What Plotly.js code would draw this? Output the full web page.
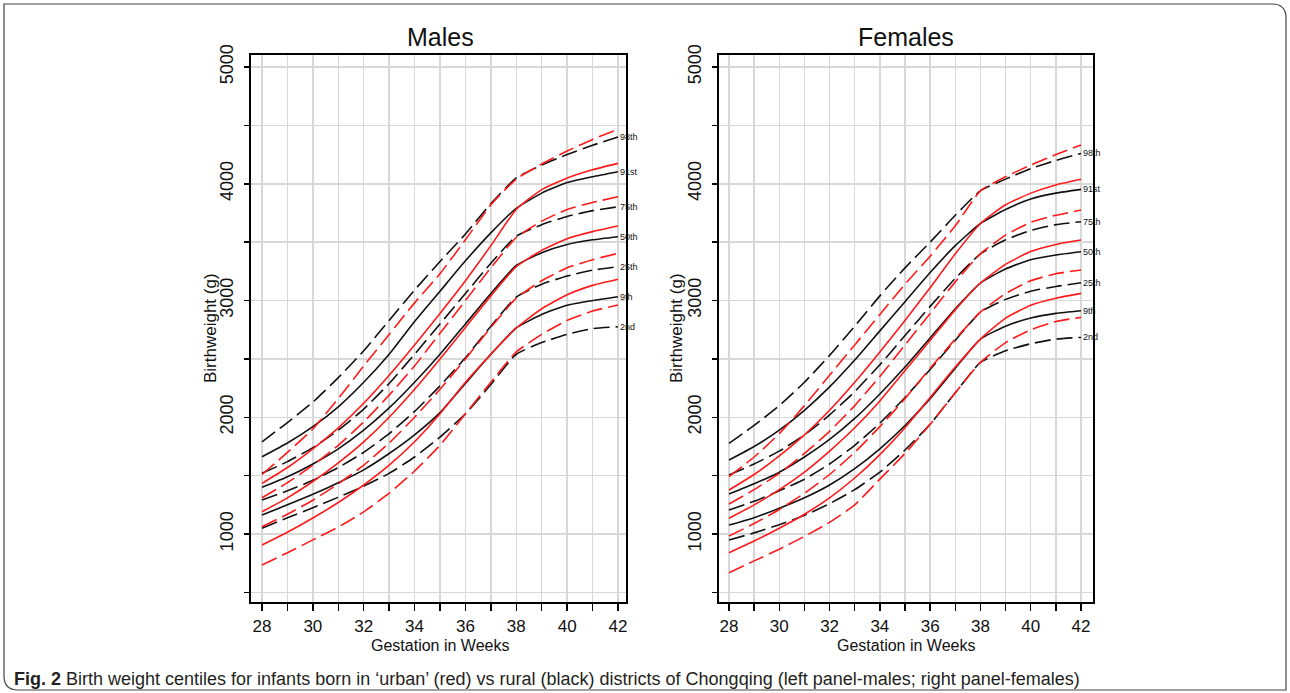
<!DOCTYPE html>
<html><head><meta charset="utf-8">
<script src="https://cdn.plot.ly/plotly-3.0.1.min.js"></script>
<style>html,body{margin:0;padding:0;background:#fff}#chart{width:1290px;height:693px}</style>
</head><body><div id="chart"></div><script>
const weeks=[28,29,30,31,32,33,34,35,36,37,38,39,40,41,42];
const xTickText=['28','','30','','32','','34','','36','','38','','40','','42'];
const yTickVals=[500,1000,1500,2000,2500,3000,3500,4000,4500,5000];
const yTickText=['','1000','','2000','','3000','','4000','','5000'];
const centiles=['98th','91st','75th','50th','25th','9th','2nd'];

// Males, rural (black)
const maleRural=[
 [1790,1955,2130,2340,2570,2830,3090,3335,3570,3830,4050,4160,4250,4330,4400],
 [1662,1780,1920,2090,2300,2540,2820,3080,3340,3580,3790,3920,4010,4060,4103],
 [1520,1620,1740,1890,2070,2290,2540,2800,3060,3320,3550,3650,3720,3770,3803],
 [1400,1490,1600,1730,1890,2080,2300,2540,2800,3060,3300,3410,3480,3520,3547],
 [1291,1370,1460,1570,1700,1860,2050,2270,2510,2780,3030,3140,3210,3260,3290],
 [1163,1250,1340,1440,1550,1690,1850,2040,2290,2540,2765,2880,2960,3000,3033],
 [1050,1140,1225,1315,1410,1520,1660,1830,2030,2280,2540,2640,2710,2760,2775]];
// Males, urban (red)
const maleUrban=[
 [1510,1700,1900,2160,2440,2710,2980,3230,3520,3820,4040,4170,4280,4380,4466],
 [1434,1570,1730,1910,2120,2360,2620,2890,3170,3470,3780,3950,4050,4120,4175],
 [1311,1440,1590,1760,1960,2190,2440,2720,3000,3280,3540,3680,3780,3840,3889],
 [1191,1310,1450,1610,1790,2000,2240,2500,2770,3040,3290,3430,3530,3590,3638],
 [1063,1170,1290,1430,1590,1780,2000,2240,2500,2770,3020,3170,3280,3350,3404],
 [906,1015,1137,1270,1420,1590,1790,2030,2300,2540,2765,2930,3050,3130,3182],
 [735,840,950,1060,1190,1350,1540,1760,2030,2300,2560,2710,2830,2910,2961]];
// Females, rural (black)
const femaleRural=[
 [1777,1930,2100,2300,2530,2780,3040,3280,3500,3730,3940,4040,4130,4200,4260],
 [1634,1750,1890,2060,2260,2490,2740,2990,3240,3470,3660,3780,3870,3920,3952],
 [1506,1600,1710,1850,2020,2220,2450,2700,2950,3190,3400,3520,3600,3650,3675],
 [1343,1430,1530,1660,1810,1990,2200,2430,2680,2930,3150,3270,3350,3390,3418],
 [1206,1280,1370,1470,1600,1760,1950,2170,2410,2660,2900,3010,3080,3120,3152],
 [1077,1140,1220,1310,1420,1560,1730,1930,2160,2420,2670,2780,2850,2890,2913],
 [949,1010,1080,1160,1260,1380,1530,1720,1940,2210,2470,2570,2630,2670,2684]];
// Females, urban (red)
const femaleUrban=[
 [1491,1660,1860,2100,2360,2620,2880,3140,3380,3640,3940,4060,4160,4250,4332],
 [1377,1510,1670,1850,2060,2300,2560,2830,3110,3400,3660,3820,3920,3990,4038],
 [1257,1380,1520,1690,1880,2100,2350,2620,2890,3160,3400,3560,3670,3730,3775],
 [1135,1250,1380,1530,1710,1910,2140,2400,2660,2920,3150,3310,3420,3480,3518],
 [983,1090,1210,1350,1510,1700,1920,2160,2420,2670,2900,3060,3170,3230,3261],
 [840,940,1050,1170,1310,1480,1680,1910,2170,2430,2670,2850,2960,3020,3061],
 [669,770,870,980,1100,1250,1470,1690,1940,2210,2470,2640,2750,2820,2856]];

const W=1290,H=693;
const FONT='"Liberation Sans", Arial, sans-serif';
const BLACK='#111111', RED='#ff1a1a';
const dashOf=i=>(i%2===0)?'16px,6px':'solid';

const traces=[];
function addPanel(rural,urban,xa,ya){
  rural.forEach((vals,i)=>traces.push({x:weeks,y:vals,xaxis:xa,yaxis:ya,type:'scatter',mode:'lines',
    line:{color:BLACK,width:1.6,dash:dashOf(i),shape:'spline',smoothing:0.5},hoverinfo:'skip',showlegend:false}));
  urban.forEach((vals,i)=>traces.push({x:weeks,y:vals,xaxis:xa,yaxis:ya,type:'scatter',mode:'lines',
    line:{color:RED,width:1.6,dash:dashOf(i),shape:'spline',smoothing:0.5},hoverinfo:'skip',showlegend:false}));
}
addPanel(maleRural,maleUrban,'x','y');
addPanel(femaleRural,femaleUrban,'x2','y2');

function xAxis(domPx,range){
  return {domain:[domPx[0]/W,domPx[1]/W],range:range,tickmode:'array',tickvals:weeks,ticktext:xTickText,
    ticks:'outside',ticklen:7,tickwidth:1.5,tickcolor:'#000',showline:true,linewidth:2,linecolor:'#000',mirror:true,
    showgrid:true,gridcolor:'#d8d8d8',gridwidth:1.5,zeroline:false,tickfont:{family:FONT,size:17,color:'#111'},ticklabelstandoff:1};
}
function yAxis(anchor){
  return {domain:[1-602/H,1-55/H],range:[418,5103],anchor:anchor,tickmode:'array',tickvals:yTickVals,ticktext:yTickText,tickangle:-90,
    ticks:'outside',ticklen:5,tickwidth:1.5,tickcolor:'#000',showline:true,linewidth:2,linecolor:'#000',mirror:true,
    showgrid:true,gridcolor:'#d8d8d8',gridwidth:1.5,zeroline:false,tickfont:{family:FONT,size:18,color:'#111'},ticklabelstandoff:4};
}

const ann=[];
function txt(x,y,text,size,opts){ann.push(Object.assign({xref:'paper',yref:'paper',x:x/W,y:1-y/H,text:text,showarrow:false,
  font:{family:FONT,size:size,color:'#111'},xanchor:'center',yanchor:'middle'},opts||{}));}
txt(440,37,'Males',25);
txt(906,37,'Females',25);
txt(440,645,'Gestation in Weeks',16);
txt(906,645,'Gestation in Weeks',16);
txt(210,328,'Birthweight (g)',17,{textangle:-90});
txt(676,328,'Birthweight (g)',17,{textangle:-90});
txt(12,679,'<b>Fig. 2</b> Birth weight centiles for infants born in ‘urban’ (red) vs rural (black) districts of Chongqing (left panel-males; right panel-females)',18,{xanchor:'left',font:{family:FONT,size:18,color:'#231f20'}});

[[maleRural,'x','y'],[femaleRural,'x2','y2']].forEach(([rural,xa,ya])=>{
  centiles.forEach((c,i)=>ann.push({xref:xa,yref:ya,x:42,y:rural[i][rural[i].length-1],text:c,showarrow:false,
    xanchor:'left',yanchor:'middle',xshift:0,font:{family:FONT,size:9,color:'#111'}}));
});

// outer frame with rounded corners (top-right and bottom-left)
const fx=v=>v/W, fy=v=>1-v/H, r=14;
const framePath='M '+fx(4)+','+fy(4)+' L '+fx(1286-r)+','+fy(4)+' Q '+fx(1286)+','+fy(4)+' '+fx(1286)+','+fy(4+r)+
  ' L '+fx(1286)+','+fy(690)+' L '+fx(4+r)+','+fy(690)+' Q '+fx(4)+','+fy(690)+' '+fx(4)+','+fy(690-r)+' Z';

const layout={width:W,height:H,margin:{l:0,r:0,t:0,b:0},paper_bgcolor:'#fff',plot_bgcolor:'#fff',showlegend:false,
  xaxis:xAxis([251,626],[27.567,42.315]),yaxis:yAxis('x'),
  xaxis2:Object.assign(xAxis([719,1093],[27.602,42.477]),{anchor:'y2'}),yaxis2:yAxis('x2'),
  annotations:ann,
  shapes:[{type:'path',xref:'paper',yref:'paper',path:framePath,line:{color:'#444',width:1.2}}]};
Plotly.newPlot('chart',traces,layout,{staticPlot:true,displayModeBar:false});
</script></body></html>
